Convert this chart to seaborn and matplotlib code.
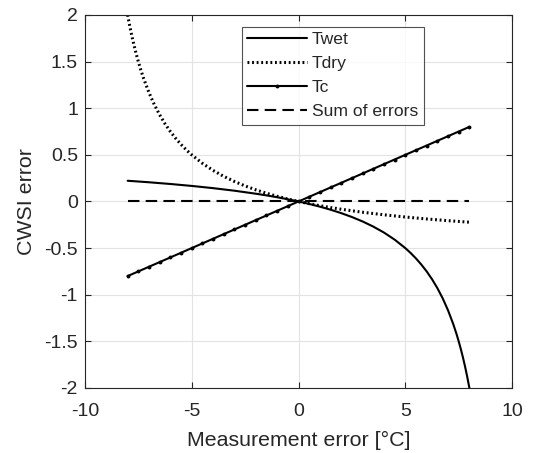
import matplotlib
matplotlib.use("Agg")
import matplotlib.pyplot as plt
import seaborn as sns

# ---- data ----
twet_x = [-8, -7, -6, -5, -4, -3, -2, -1.5, -1, -0.5, 0, 0.5, 1, 1.5, 2, 2.5, 3, 3.5, 4,
          4.5, 5, 5.25, 5.5, 5.75, 6, 6.25, 6.5, 6.75, 7, 7.25, 7.4, 7.5, 7.6, 7.7, 7.8,
          7.9, 8]
twet_y = [0.2222, 0.2059, 0.1875, 0.1667, 0.1429, 0.1154, 0.0833, 0.0652, 0.0455, 0.0238,
          0.0, -0.0263, -0.0556, -0.0882, -0.125, -0.1667, -0.2143, -0.2692, -0.3333,
          -0.4091, -0.5, -0.5526, -0.6111, -0.6765, -0.75, -0.8333, -0.9286, -1.0385,
          -1.1667, -1.3182, -1.4231, -1.5, -1.5833, -1.6739, -1.7727, -1.8810, -2.0]

tdry_x = [-8, -7.9, -7.8, -7.7, -7.6, -7.5, -7.4, -7.25, -7, -6.75, -6.5, -6.25, -6,
          -5.75, -5.5, -5.25, -5, -4.5, -4, -3.5, -3, -2.5, -2, -1.5, -1, -0.5, 0, 0.5,
          1, 1.5, 2, 3, 4, 5, 6, 7, 8]
tdry_y = [2.0, 1.8810, 1.7727, 1.6739, 1.5833, 1.5, 1.4231, 1.3182, 1.1667, 1.0385,
          0.9286, 0.8333, 0.75, 0.6765, 0.6111, 0.5526, 0.5, 0.4091, 0.3333, 0.2692,
          0.2143, 0.1667, 0.125, 0.0882, 0.0556, 0.0263, 0.0, -0.0238, -0.0455, -0.0652,
          -0.0833, -0.1154, -0.1429, -0.1667, -0.1875, -0.2059, -0.2222]

tc_x = [-8, -7.5, -7, -6.5, -6, -5.5, -5, -4.5, -4, -3.5, -3, -2.5, -2, -1.5, -1, -0.5, 0,
        0.5, 1, 1.5, 2, 2.5, 3, 3.5, 4, 4.5, 5, 5.5, 6, 6.5, 7, 7.5, 8]
tc_y = [-0.8, -0.75, -0.7, -0.65, -0.6, -0.55, -0.5, -0.45, -0.4, -0.35, -0.3, -0.25, -0.2,
        -0.15, -0.1, -0.05, 0.0, 0.05, 0.1, 0.15, 0.2, 0.25, 0.3, 0.35, 0.4, 0.45, 0.5,
        0.55, 0.6, 0.65, 0.7, 0.75, 0.8]

sum_x = [-8, 8]
sum_y = [0.0, 0.0]

x_ticks = [-10, -5, 0, 5, 10]
y_ticks = [-2, -1.5, -1, -0.5, 0, 0.5, 1, 1.5, 2]
x_tick_labels = ["-10", "-5", "0", "5", "10"]
y_tick_labels = ["-2", "-1.5", "-1", "-0.5", "0", "0.5", "1", "1.5", "2"]

sns.set_theme(style="white")
plt.rcParams["font.family"] = ["Liberation Sans", "DejaVu Sans"]
plt.rcParams["axes.unicode_minus"] = False

fig = plt.figure(figsize=(5.34, 4.53), dpi=100)
ax = fig.add_axes([0.159, 0.1435, 0.8, 0.8235])

sns.lineplot(x=twet_x, y=twet_y, ax=ax, color="black", linewidth=1.5, label="Twet")
sns.lineplot(x=tdry_x, y=tdry_y, ax=ax, color="black", linewidth=2.2,
             linestyle=(0, (0.6, 0.9)), label="Tdry")
sns.lineplot(x=tc_x, y=tc_y, ax=ax, color="black", linewidth=1.5, marker="o",
             markersize=2.8, markeredgewidth=0, label="Tc")
sns.lineplot(x=sum_x, y=sum_y, ax=ax, color="black", linewidth=1.5,
             linestyle=(0, (5.5, 3)), label="Sum of errors")

ax.set_xlim(-10, 10)
ax.set_ylim(-2, 2)
ax.set_xticks(x_ticks)
ax.set_xticklabels(x_tick_labels)
ax.set_yticks(y_ticks)
ax.set_yticklabels(y_tick_labels)
ax.grid(True, color="#e3e3e3", linewidth=0.8)
ax.set_axisbelow(True)
for s in ax.spines.values():
    s.set_color("#262626")
    s.set_linewidth(0.8)
ax.tick_params(direction="in", length=4, width=0.8, color="#262626",
               labelsize=14, labelcolor="#262626", top=True, right=True,
               bottom=True, left=True, labeltop=False, labelright=False, pad=5)
ax.tick_params(axis="x", pad=11)

ax.set_xlabel("Measurement error [°C]", fontsize=15.4, color="#262626", labelpad=7.5)
ax.set_ylabel("CWSI error", fontsize=15.4, color="#262626", labelpad=6)

leg = ax.legend(loc="upper left", bbox_to_anchor=(0.368, 0.968), frameon=True,
                fancybox=False, edgecolor="#262626", fontsize=12.6,
                handlelength=3.4, handletextpad=0.3, borderpad=0.3,
                labelspacing=0.5, borderaxespad=0)
leg.get_frame().set_linewidth(0.8)

fig.savefig("out.png", dpi=100)
